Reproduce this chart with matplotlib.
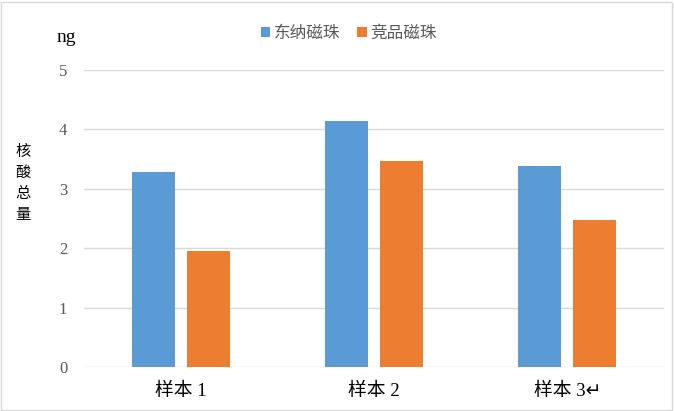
import matplotlib.pyplot as plt
import numpy as np
from matplotlib.patches import Rectangle

# data
categories = ['样本 1', '样本 2', '样本 3↵']
series = ['东纳磁珠', '竞品磁珠']
dongna = [3.28, 4.14, 3.39]
jingpin = [1.95, 3.46, 2.47]
yticks = [0, 1, 2, 3, 4, 5]

blue = '#5B9BD5'
orange = '#ED7D31'
cjk = ['Noto Sans CJK SC', 'DejaVu Sans']
serif = ['Liberation Serif', 'Noto Sans CJK SC', 'DejaVu Sans']

fig = plt.figure(figsize=(6.74, 4.11), dpi=100)
ax = fig.add_axes([84/674, 1-367/411, 580/674, 297/411])

x = np.arange(len(categories))
w = 0.222
gap = 0.062
b1 = ax.bar(x - (w+gap)/2, dongna, w, color=blue, label=series[0], zorder=3)
b2 = ax.bar(x + (w+gap)/2, jingpin, w, color=orange, label=series[1], zorder=3)

ax.set_xlim(-0.5, len(categories)-0.5)
ax.set_ylim(0, 5)
ax.set_yticks(yticks)
ax.set_yticklabels([str(t) for t in yticks], family=serif, fontsize=12, color='#595959')
ax.set_xticks(x)
ax.set_xticklabels(categories, family=serif, fontsize=13.5, color='black')
ax.tick_params(axis='both', length=0)
ax.tick_params(axis='y', pad=12)
ax.tick_params(axis='x', pad=11)
ax.grid(axis='y', color='#D9D9D9', linewidth=1, zorder=0)
for s in ax.spines.values():
    s.set_visible(False)

# legend
leg = fig.legend(handles=[b1, b2], labels=series, loc='center', bbox_to_anchor=(349/674, 1-33/411),
                 ncol=2, frameon=False, prop={'family': cjk, 'size': 12},
                 handlelength=0.55, handleheight=0.55, handletextpad=0.25, columnspacing=1.0)
for t in leg.get_texts():
    t.set_color('#595959')

# unit and axis title
fig.text(66/674, 1-37/411, 'ng', family=serif, fontsize=14, ha='center', va='center')
fig.text(23/674, 1-183/411, '\n'.join('核酸总量'), family=cjk, fontsize=11,
         ha='center', va='center', linespacing=1.3)

# chart border
fig.patches.append(Rectangle((0.002, 0.003), 0.995, 0.993, transform=fig.transFigure,
                             fill=False, edgecolor='#D9D9D9', linewidth=1))

fig.savefig('out.png', dpi=100)
